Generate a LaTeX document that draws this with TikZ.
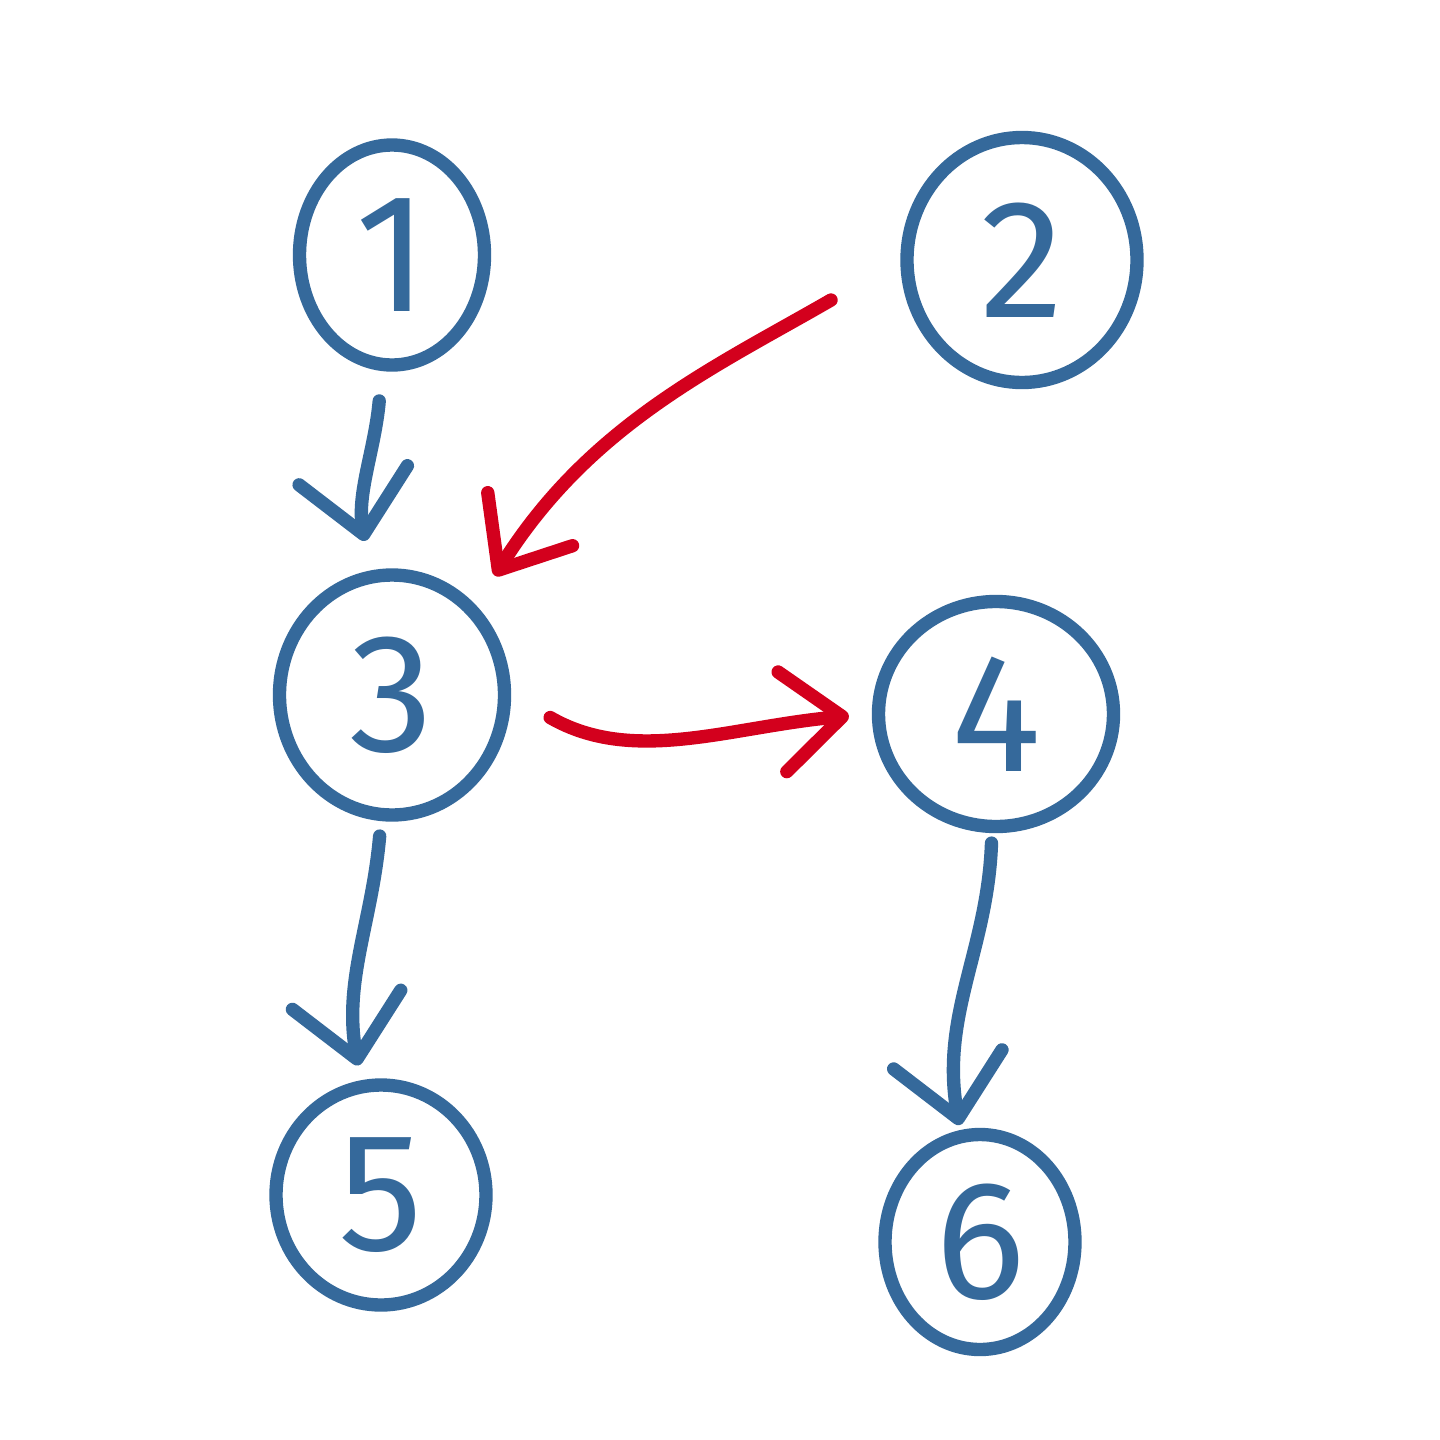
\documentclass[tikz,border=0pt]{standalone}
\usepackage{fontspec}
\setsansfont{Fira Sans}
\usepackage{tikz}
\usetikzlibrary{positioning,shapes.geometric,arrows.meta}
\definecolor{penblue}{HTML}{35699B}
\definecolor{penred}{HTML}{D3001D}

\begin{document}
\begin{tikzpicture}[
		node distance=4.4cm, on grid,  % centre to centre
		vertex/.style={ellipse, draw=penblue, line width=3.8pt, minimum width=2.1cm, minimum height=2.3cm, text=penblue, font=\sffamily\fontsize{48}{48}\selectfont},
		bluearrow/.style={draw=penblue, line width=3.8pt, line cap=round, -{Straight Barb[length=0.6cm, width=1.1cm, line cap=round, line join=round]}},
		redarrow/.style={draw=penred, line width=3.8pt, line cap=round, -{Straight Barb[length=0.6cm, width=1.0cm, line cap=round, line join=round]}}
		]
		\useasboundingbox[fill=white] (0,0) rectangle (14.4,-14.4);
		% left column
		\node[vertex, minimum width=1.85cm, minimum height=2.2cm] (n1) at (3.92,-2.55) {1};
		\node[vertex, minimum width=2.25cm, minimum height=2.4cm, below=of n1] (n3) {3};
		\node[vertex, minimum width=2.1cm, minimum height=2.2cm, below=5.0cm of n3, xshift=-0.11cm] (n5) {5};
		% right column
		\node[vertex, minimum width=2.3cm, minimum height=2.45cm, right=6.3cm of n1, yshift=-0.05cm] (n2) {2};
		\node[vertex, minimum width=2.35cm, minimum height=2.25cm, right=6.04cm of n3, yshift=-0.19cm] (n4) {4};
		\node[vertex, minimum width=1.9cm, minimum height=2.15cm, below=5.28cm of n4, xshift=-0.16cm] (n6) {6};
		% blue edges
		\draw[bluearrow, shorten <=0.3cm, shorten >=0.3cm] (n1) to[out=-95, in=100] (n3);
		\draw[bluearrow, shorten <=0.15cm, shorten >=0.15cm] (n3) to[out=-95, in=100] (n5);
		\draw[bluearrow, shorten <=0.1cm, shorten >=0.05cm] (n4) to[out=-92, in=100] (n6);
		% red edges
		\draw[redarrow, shorten <=0.8cm, shorten >=0.35cm] (n2.west) to[out=210, in=58] (n3.north east);
		\draw[redarrow, shorten <=0.45cm, shorten >=0.23cm] (n3.east) to[out=-30, in=185] (n4.west);
	\end{tikzpicture}
\end{document}
